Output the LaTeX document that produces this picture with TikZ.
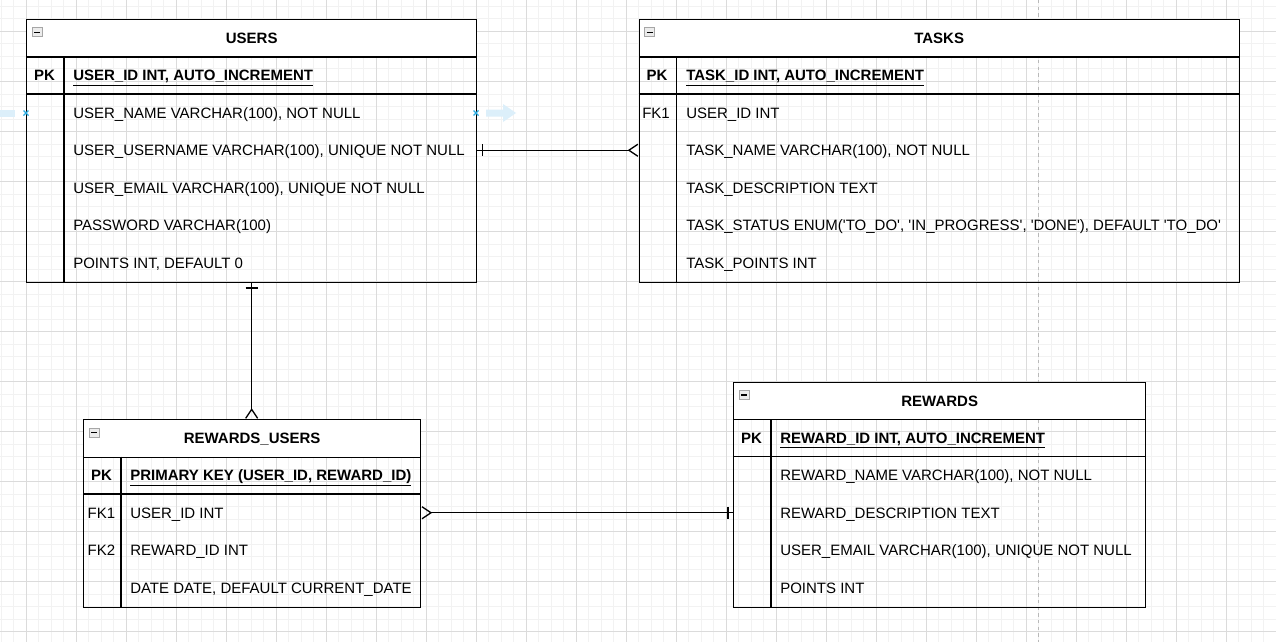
\documentclass[tikz,border=0pt]{standalone}
\usepackage{fontspec}
\setmainfont{Liberation Sans}
\usetikzlibrary{arrows.meta}

\definecolor{hoverblue}{HTML}{29ABE2}
\definecolor{hoverpale}{HTML}{DCEFFA}
\newcommand{\erfont}{\fontsize{11.25}{13.5}\selectfont}
\newcommand{\sq}{\textquotesingle}

\tikzset{
    gridminor/.style={gray!10, line width=0.75pt},
    gridmajor/.style={gray!28, line width=0.75pt},
    frame/.style={draw, line width=1pt, inner sep=0pt, anchor=north west},
    header/.style={frame, fill=white},
    title/.style={font=\erfont\bfseries, inner sep=0pt, text height=8pt, text depth=0pt},
    keylbl/.style={inner sep=0pt, text height=8pt, text depth=0pt},
    field/.style={anchor=west, inner sep=0pt, text height=8pt, text depth=0pt},
    rel/.style={line width=1pt},
    crow/.style={rel, -{Straight Barb[reversed, length=6.75pt, width=9pt]}},
}

\begin{document}
\begin{tikzpicture}[x=0.75pt, y=-0.75pt, font=\erfont]
    \useasboundingbox (0,0) rectangle (1276,642);
    \fill[white] (0,0) rectangle (1276,642);
    %% Grid
    \foreach \x in {1,13.5,...,1276} \draw[gridminor] (\x,0) -- (\x,642);
    \foreach \y in {6.5,19,...,642} \draw[gridminor] (0,\y) -- (1276,\y);
    \foreach \x in {26,76,...,1276} \draw[gridmajor] (\x,0) -- (\x,642);
    \foreach \y in {31.5,81.5,...,642} \draw[gridmajor] (0,\y) -- (1276,\y);
    \draw[gray!55, line width=0.75pt, dash pattern=on 2.5pt off 2.5pt] (1038.5,0) -- (1038.5,642);

    %% Users
    \node[frame, minimum width=337.5pt, minimum height=196.875pt] (users) at (26,19) {};
    \node[header, minimum width=337.5pt, minimum height=28.125pt] (users-head) at (26,19) {};
    \node[title] (users-title) at (users-head) {USERS};
    \draw[rel] (26,94) -- (476,94);
    \draw[rel] (64,56.5) -- (64,281.5);
    \node[keylbl, font=\erfont\bfseries] (users-pk) at (44.5,75.25) {PK};
    \node[field, font=\erfont\bfseries] (users-id) at (73,75.25) {\underline{USER\_ID INT, AUTO\_INCREMENT}};
    \foreach \t [count=\i] in {{USER\_NAME VARCHAR(100), NOT NULL},
        {USER\_USERNAME VARCHAR(100), UNIQUE NOT NULL},
        {USER\_EMAIL VARCHAR(100), UNIQUE NOT NULL},
        {PASSWORD VARCHAR(100)}, {POINTS INT, DEFAULT 0}}
        \node[field] (users-r\i) at (73,{75.25+37.5*\i}) {\t};

    %% Tasks
    \node[frame, minimum width=450pt, minimum height=196.875pt] (tasks) at (638.5,19) {};
    \node[header, minimum width=450pt, minimum height=28.125pt] (tasks-head) at (638.5,19) {};
    \node[title] (tasks-title) at (tasks-head) {TASKS};
    \draw[rel] (638.5,94) -- (1238.5,94);
    \draw[rel] (676.5,56.5) -- (676.5,281.5);
    \node[keylbl, font=\erfont\bfseries] (tasks-pk) at (657,75.25) {PK};
    \node[field, font=\erfont\bfseries] (tasks-id) at (686,75.25) {\underline{TASK\_ID INT, AUTO\_INCREMENT}};
    \node[keylbl] (tasks-fk1) at (656,112.75) {FK1};
    \foreach \t [count=\i] in {{USER\_ID INT}, {TASK\_NAME VARCHAR(100), NOT NULL},
        {TASK\_DESCRIPTION TEXT},
        {TASK\_STATUS ENUM(\sq TO\_DO\sq, \sq IN\_PROGRESS\sq, \sq DONE\sq), DEFAULT \sq TO\_DO\sq},
        {TASK\_POINTS INT}}
        \node[field] (tasks-r\i) at (686,{75.25+37.5*\i}) {\t};

    %% Rewards_Users
    \node[frame, minimum width=252.75pt, minimum height=140.625pt] (ru) at (83,419) {};
    \node[header, minimum width=252.75pt, minimum height=28.125pt] (ru-head) at (83,419) {};
    \node[title] (ru-title) at (ru-head) {REWARDS\_USERS};
    \draw[rel] (83,494) -- (420,494);
    \draw[rel] (121,456.5) -- (121,606.5);
    \node[keylbl, font=\erfont\bfseries] (ru-pk) at (101.5,475.25) {PK};
    \node[field, font=\erfont\bfseries] (ru-id) at (130,475.25) {\underline{PRIMARY KEY (USER\_ID, REWARD\_ID)}};
    \node[keylbl] (ru-fk1) at (101.5,512.75) {FK1};
    \node[keylbl] (ru-fk2) at (101.5,550.25) {FK2};
    \foreach \t [count=\i] in {{USER\_ID INT}, {REWARD\_ID INT},
        {DATE DATE, DEFAULT CURRENT\_DATE}}
        \node[field] (ru-r\i) at (130,{475.25+37.5*\i}) {\t};

    %% Rewards
    \node[frame, minimum width=309pt, minimum height=168.75pt] (rw) at (733,381.5) {};
    \node[header, minimum width=309pt, minimum height=28.125pt] (rw-head) at (733,381.5) {};
    \node[title] (rw-title) at (rw-head) {REWARDS};
    \draw[rel] (733,456.5) -- (1145,456.5);
    \draw[rel] (771,419) -- (771,606.5);
    \node[keylbl, font=\erfont\bfseries] (rw-pk) at (751.5,437.75) {PK};
    \node[field, font=\erfont\bfseries] (rw-id) at (780,437.75) {\underline{REWARD\_ID INT, AUTO\_INCREMENT}};
    \foreach \t [count=\i] in {{REWARD\_NAME VARCHAR(100), NOT NULL},
        {REWARD\_DESCRIPTION TEXT},
        {USER\_EMAIL VARCHAR(100), UNIQUE NOT NULL}, {POINTS INT}}
        \node[field] (rw-r\i) at (780,{437.75+37.5*\i}) {\t};

    %% Collapse icons
    \foreach \x/\y in {26/19, 638.5/19, 83/419, 733/381.5} {
        \draw[gray!70, fill=gray!15, line width=0.75pt] (\x+6,\y+9) rectangle (\x+16,\y+18);
        \draw[line width=1.2pt] (\x+8,\y+13.5) -- (\x+14,\y+13.5);
    }

    %% Relations
    \draw[crow] (users.east |- users-r2) -- (tasks.west |- users-r2);
    \draw[rel] (users.east |- users-r2) ++(5,-6) -- ++(0,12);
    \draw[crow] (users.south) -- (users.south |- ru.north);
    \draw[rel] (users.south) ++(-6,5) -- ++(12,0);
    \draw[crow] (rw.west |- ru-r1) -- (ru.east |- ru-r1);
    \draw[rel] (rw.west |- ru-r1) ++(-5,-6) -- ++(0,12);

    %% Hover marks
    \fill[hoverpale] (0,109.5) rectangle (15,116.5);
    \fill[hoverpale] (486,109.5) -- (503,109.5) -- (503,104) -- (516,113)
        -- (503,122) -- (503,116.5) -- (486,116.5) -- cycle;
    \draw[hoverblue, line width=1pt] (23.5,110.5) -- (28.5,115.5) (23.5,115.5) -- (28.5,110.5);
    \draw[hoverblue, line width=1pt] (473.5,110.5) -- (478.5,115.5) (473.5,115.5) -- (478.5,110.5);
\end{tikzpicture}
\end{document}
